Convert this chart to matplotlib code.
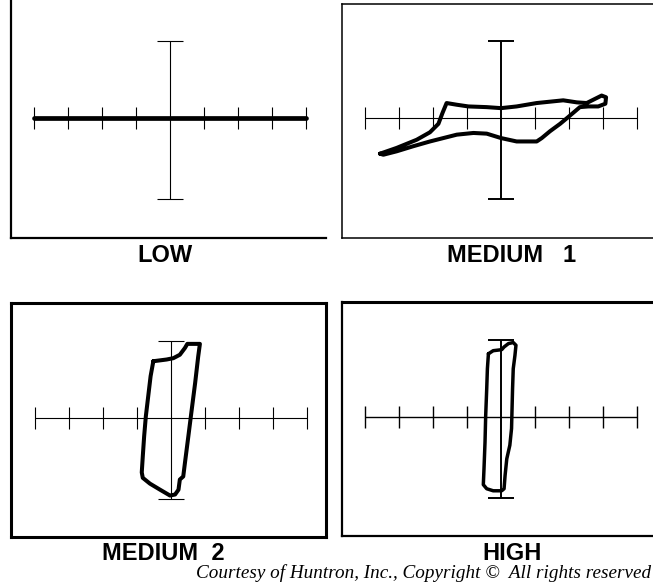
import matplotlib.pyplot as plt

# Tamaño de la imagen en píxeles
W, H = 653, 585
px_div = 34  # píxeles por división de la retícula

# Retícula (en divisiones)
marcas_x = [-4, -3, -2, -1, 1, 2, 3, 4]
eje_x_lim = 4
eje_y_sup = 2.26
eje_y_inf = -2.38
alto_marca = 0.32
ancho_tope = 0.37

etiquetas = ["LOW", "MEDIUM   1", "MEDIUM  2", "HIGH"]
nota = "Courtesy of Huntron, Inc., Copyright \u00a9  All rights reserved"

# Trazas (en divisiones)
low_x = [-4, 4]
low_y = [0, 0]

med1_x = [-3.56, -3.07, -2.48, -2.09, -1.84, -1.72, -1.60, -1.30, -0.96, -0.42, 0.00,
          0.46, 1.05, 1.83, 2.23, 2.52, 2.76, 2.96, 3.09, 3.07, 2.86, 2.57, 2.32, 2.18,
          1.98, 1.74, 1.44, 1.20, 1.05, 0.46, 0.00, -0.42, -0.81, -1.30, -2.09, -2.58,
          -3.07, -3.46, -3.56]
med1_y = [-1.05, -0.88, -0.64, -0.42, -0.17, 0.15, 0.44, 0.39, 0.34, 0.32, 0.29,
          0.34, 0.44, 0.52, 0.46, 0.44, 0.56, 0.66, 0.61, 0.42, 0.34, 0.34, 0.32, 0.20,
          0.03, -0.17, -0.39, -0.59, -0.69, -0.69, -0.59, -0.46, -0.44, -0.49, -0.69, -0.83,
          -0.98, -1.08, -1.05]

med2_x = [-0.52, -0.13, 0.07, 0.26, 0.41, 0.48, 0.85, 0.80, 0.71, 0.61, 0.51, 0.41,
          0.36, 0.26, 0.22, 0.12, -0.03, -0.32, -0.62, -0.83, -0.86, -0.83, -0.79, -0.74,
          -0.67, -0.60, -0.52]
med2_y = [1.67, 1.72, 1.76, 1.86, 2.06, 2.18, 2.18, 1.81, 1.03, 0.25, -0.54, -1.32,
          -1.72, -1.81, -2.11, -2.25, -2.28, -2.11, -1.93, -1.76, -1.60, -1.13, -0.54, 0.05,
          0.64, 1.23, 1.67]

high_x = [-0.37, -0.23, 0.02, 0.09, 0.22, 0.36, 0.44, 0.41, 0.36, 0.34, 0.32, 0.31,
          0.26, 0.17, 0.12, 0.09, 0.02, -0.23, -0.42, -0.52, -0.50, -0.47, -0.45, -0.42,
          -0.40, -0.37]
high_y = [1.86, 1.95, 1.98, 2.06, 2.16, 2.19, 2.11, 1.81, 1.42, 0.83, 0.05, -0.34,
          -0.83, -1.23, -1.72, -2.11, -2.17, -2.17, -2.11, -1.99, -1.52, -0.74, 0.05, 0.83,
          1.42, 1.86]

fig = plt.figure(figsize=(W / 100, H / 100), dpi=100)


def dibujar_panel(caja, centro, bordes, tx, ty, lw_traza, lw_h, lw_v):
    izq, arr, der, aba = caja
    ax = fig.add_axes([izq / W, 1 - aba / H, (der - izq) / W, (aba - arr) / H])
    cx, cy = centro
    ax.set_xlim((izq - cx) / px_div, (der - cx) / px_div)
    ax.set_ylim((cy - aba) / px_div, (cy - arr) / px_div)
    ax.set_xticks([])
    ax.set_yticks([])
    for lado in ["left", "right", "top", "bottom"]:
        if lado in bordes:
            ax.spines[lado].set_linewidth(bordes[lado])
            ax.spines[lado].set_color("black")
        else:
            ax.spines[lado].set_visible(False)

    # Eje horizontal con sus marcas
    ax.plot([-eje_x_lim, eje_x_lim], [0, 0], color="black", lw=lw_h, solid_capstyle="butt")
    for m in marcas_x:
        ax.plot([m, m], [-alto_marca, alto_marca], color="black", lw=lw_h,
                solid_capstyle="butt")
    # Eje vertical con topes
    ax.plot([0, 0], [eje_y_inf, eje_y_sup], color="black", lw=lw_v, solid_capstyle="butt")
    for yy in [eje_y_inf, eje_y_sup]:
        ax.plot([-ancho_tope, ancho_tope], [yy, yy], color="black", lw=lw_v,
                solid_capstyle="butt")

    # Traza del instrumento
    ax.plot(tx, ty, color="black", lw=lw_traza, solid_joinstyle="round",
            solid_capstyle="round")
    return ax


dibujar_panel((11, 0, 326, 238), (170, 118), {"left": 1.6, "bottom": 1.6},
              low_x, low_y, 3.4, 0.8, 0.8)
dibujar_panel((342, 4, 660, 238), (501, 118), {"left": 1.1, "top": 1.1, "bottom": 1.1},
              med1_x, med1_y, 2.9, 0.8, 1.4)
dibujar_panel((11, 303, 326, 537), (171, 418), {"left": 2.2, "top": 2.2, "bottom": 2.2,
                                                "right": 2.2},
              med2_x, med2_y, 2.9, 0.8, 0.8)
dibujar_panel((342, 302, 660, 536), (501, 417), {"left": 1.6, "top": 2.2, "bottom": 1.6},
              high_x, high_y, 2.5, 1.0, 1.4)

# Etiquetas de cada panel
pos_etiquetas = [(165, 256), (512, 256), (163, 553), (512, 553)]
for txt, (x, y) in zip(etiquetas, pos_etiquetas):
    fig.text(x / W, 1 - y / H, txt, ha="center", va="center", fontsize=17,
             family="Liberation Sans", weight="bold")

fig.text(651 / W, 1 - 573 / H, nota, ha="right", va="center", fontsize=13.8,
         family="Liberation Serif", style="italic")

fig.savefig("out.png", dpi=100)
